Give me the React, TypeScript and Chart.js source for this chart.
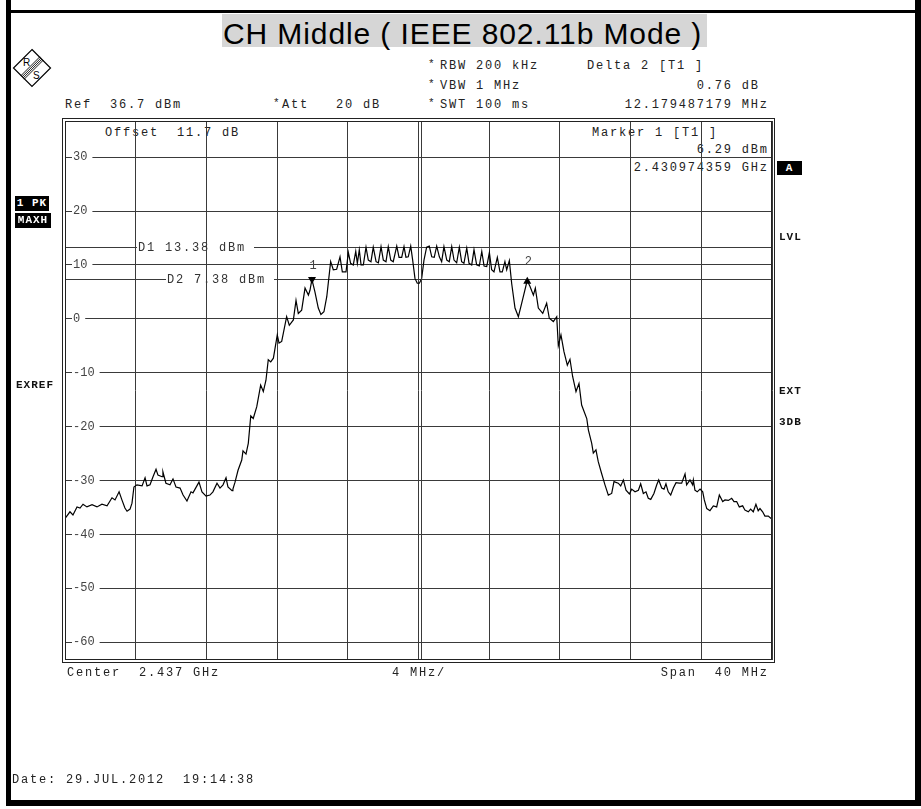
import React, { useEffect, useRef } from "react";
import { Chart, registerables } from "chart.js";

Chart.register(...registerables);

// ---------------- data ----------------
// frequency offset from centre (2.437 GHz), MHz
const freqOffsetMHz = [
  -20.0, -19.94, -19.72, -19.55, -19.32, -19.15, -18.98, -18.76, -18.47, -18.19,
  -17.91, -17.62, -17.34, -17.17, -16.94, -16.78, -16.61, -16.49, -16.32, -16.21,
  -16.1, -15.93, -15.64, -15.47, -15.36, -15.19, -15.02, -14.85, -14.74, -14.51,
  -14.46, -14.29, -14.06, -13.89, -13.72, -13.49, -13.32, -13.1, -12.87, -12.76,
  -12.42, -12.25, -12.02, -11.8, -11.63, -11.4, -11.23, -11.06, -10.89, -10.78,
  -10.55, -10.5, -10.38, -10.21, -10.0, -9.93, -9.76, -9.63, -9.49, -9.35,
  -9.15, -8.93, -8.78, -8.63, -8.5, -8.36, -8.21, -7.99, -7.89, -7.74,
  -7.46, -7.31, -7.08, -6.93, -6.8, -6.61, -6.42, -6.23, -6.14, -6.03,
  -5.86, -5.67, -5.52, -5.35, -5.19, -4.97, -4.82, -4.63, -4.44, -4.31,
  -4.1, -3.97, -3.84, -3.69, -3.55, -3.46, -3.35, -3.25, -3.12, -2.97,
  -2.84, -2.69, -2.56, -2.4, -2.27, -2.12, -1.99, -1.84, -1.71, -1.57,
  -1.43, -1.23, -1.1, -0.95, -0.82, -0.71, -0.58, -0.44, -0.33, -0.2,
  -0.07, 0.05, 0.18, 0.31, 0.46, 0.61, 0.75, 0.89, 1.03, 1.18,
  1.31, 1.44, 1.6, 1.74, 1.88, 2.01, 2.16, 2.31, 2.44, 2.57,
  2.73, 2.86, 3.01, 3.14, 3.29, 3.44, 3.58, 3.71, 3.86, 4.01,
  4.14, 4.27, 4.46, 4.61, 4.74, 4.89, 4.99, 5.14, 5.27, 5.46,
  5.65, 5.84, 6.15, 6.31, 6.5, 6.61, 6.78, 7.03, 7.25, 7.4,
  7.63, 7.82, 7.91, 8.06, 8.23, 8.42, 8.57, 8.72, 8.91, 9.08,
  9.23, 9.52, 9.61, 9.8, 9.89, 10.04, 10.17, 10.36, 10.55, 10.74,
  10.93, 11.06, 11.3, 11.44, 11.59, 11.74, 11.93, 12.06, 12.25, 12.44,
  12.57, 12.72, 12.87, 13.0, 13.14, 13.32, 13.48, 13.59, 13.76, 13.89,
  14.0, 14.13, 14.27, 14.42, 14.57, 14.75, 14.89, 15.08, 15.17, 15.36,
  15.51, 15.55, 15.64, 15.77, 15.93, 16.08, 16.17, 16.31, 16.49, 16.68,
  16.87, 17.02, 17.21, 17.34, 17.53, 17.72, 17.85, 18.0, 18.15, 18.34,
  18.47, 18.66, 18.79, 18.94, 19.09, 19.22, 19.32, 19.47, 19.6, 19.79,
  19.93, 20.0,
];
// trace level, dBm
const levelDbm = [
  -37.0, -36.8, -35.8, -36.4, -34.9, -35.1, -34.4, -34.9, -34.5, -34.9,
  -34.4, -34.7, -33.2, -33.6, -32.1, -33.6, -35.1, -35.7, -35.3, -34.2,
  -31.2, -30.8, -31.0, -29.5, -31.0, -30.8, -29.3, -27.9, -29.0, -29.3,
  -28.4, -30.5, -30.8, -29.7, -31.2, -31.4, -32.7, -33.8, -32.1, -32.3,
  -30.3, -32.1, -32.9, -32.7, -32.1, -30.5, -31.4, -30.8, -29.5, -31.2,
  -31.9, -31.6, -30.3, -28.1, -26.2, -24.5, -25.1, -23.1, -18.0, -18.5,
  -16.3, -12.3, -13.5, -11.4, -7.6, -8.0, -7.3, -3.0, -4.5, -4.2,
  0.4, -1.2, -0.2, 3.4, 1.0, 1.6, 5.7, 4.4, 5.3, 7.3,
  5.0, 2.0, 0.8, 1.3, 4.1, 10.6, 9.1, 9.2, 11.5, 8.7,
  8.7, 12.3, 10.3, 10.0, 12.5, 10.3, 12.8, 10.0, 10.0, 13.3,
  10.9, 10.6, 13.3, 10.6, 10.4, 13.4, 10.9, 10.6, 13.4, 10.9,
  10.6, 13.5, 11.4, 11.4, 13.4, 11.4, 11.5, 13.5, 10.9, 7.5,
  6.6, 6.6, 7.5, 10.9, 13.3, 13.5, 11.5, 11.4, 13.5, 11.5,
  10.6, 13.4, 10.9, 10.6, 13.4, 10.9, 10.4, 13.3, 10.6, 10.3,
  13.1, 10.3, 10.0, 12.8, 10.0, 9.8, 12.5, 9.8, 9.7, 12.3,
  9.1, 8.7, 11.4, 8.7, 8.7, 10.6, 9.1, 10.8, 6.6, 2.0,
  0.4, 2.9, 7.1, 6.0, 4.4, 5.7, 2.0, 1.0, 2.9, 0.1,
  -0.5, 0.4, -5.0, -3.0, -6.1, -8.6, -7.5, -10.7, -13.5, -12.0,
  -16.0, -18.5, -20.6, -23.1, -24.9, -24.3, -26.5, -28.7, -30.8, -32.7,
  -32.4, -30.2, -30.5, -31.0, -29.9, -31.8, -32.5, -31.6, -32.1, -31.8,
  -30.6, -32.4, -32.1, -33.3, -33.5, -32.4, -30.8, -29.9, -31.4, -31.6,
  -30.6, -32.1, -32.7, -31.4, -30.4, -30.5, -30.5, -28.8, -30.8, -29.9,
  -30.8, -29.9, -31.8, -32.1, -31.6, -32.1, -33.6, -35.2, -35.6, -34.7,
  -34.9, -32.7, -33.9, -33.6, -33.7, -33.3, -33.9, -33.9, -34.9, -34.7,
  -35.5, -35.8, -35.3, -35.8, -34.4, -35.6, -35.2, -35.8, -36.6, -36.6,
  -37.0, -37.1,
];

const yTickValues = [30, 20, 10, 0, -10, -20, -30, -40, -50, -60];
const xTickValues = [-20, -16, -12, -8, -4, 0, 4, 8, 12, 16, 20];
const refLevelDbm = 36.7;
const bottomLevelDbm = -63.3;
const displayLineNames = ["D1", "D2"];
const displayLineLevels = [13.38, 7.38];
const markerNames = ["1", "2"];
const markerOffsetsMHz = [-6.025641, 6.153846];
const markerLevelsDbm = [6.29, 7.05];

// ---------------- styling ----------------
const W = 921;
const H = 809;
const MONO = '"Liberation Mono", "DejaVu Sans Mono", monospace';
const GRID = "#3a3a3a";

const rsPlugin = {
  id: "rsDecor",
  beforeDraw(chart: any) {
    const { ctx, chartArea: a, scales } = chart;
    const y = scales.y;
    ctx.save();
    ctx.font = `12px ${MONO}`;
    try { (ctx as any).letterSpacing = "1.8px"; } catch (e) {}
    ctx.textBaseline = "middle";
    ctx.textAlign = "left";
    const labelOffsets = [73, 102];
    displayLineLevels.forEach((v, i) => {
      const py = Math.round(y.getPixelForValue(v)) + 0.5;
      const label = `${displayLineNames[i]} ${v.toFixed(2)} dBm`;
      const tx = a.left + labelOffsets[i];
      const tw = ctx.measureText(label).width;
      ctx.strokeStyle = "#3a3a3a";
      ctx.lineWidth = 1;
      ctx.beginPath();
      ctx.moveTo(a.left, py);
      ctx.lineTo(tx - 1, py);
      ctx.moveTo(tx + tw + 8, py);
      ctx.lineTo(a.right, py);
      ctx.stroke();
      ctx.fillStyle = "#333";
      ctx.fillText(label, tx, py + 0.5);
    });
    ctx.restore();
  },
  afterDatasetsDraw(chart: any) {
    const { ctx, chartArea: a, scales } = chart;
    const x = scales.x;
    const y = scales.y;
    ctx.save();
    // centre double line
    const cx = Math.round(x.getPixelForValue(0)) + 0.5;
    ctx.strokeStyle = GRID;
    ctx.lineWidth = 1;
    ctx.beginPath();
    ctx.moveTo(cx + 2, a.top);
    ctx.lineTo(cx + 2, a.bottom);
    ctx.stroke();
    // frame
    ctx.strokeStyle = "#222";
    ctx.strokeRect(a.left + 0.5, a.top + 0.5, a.right - a.left - 1, a.bottom - a.top - 1);
    ctx.strokeRect(a.left - 2.5, a.top - 2.5, a.right - a.left + 5, a.bottom - a.top + 5);
    // markers
    ctx.fillStyle = "#000";
    markerOffsetsMHz.forEach((f, i) => {
      const px = x.getPixelForValue(f);
      const py = y.getPixelForValue(markerLevelsDbm[i]);
      ctx.beginPath();
      if (i === 0) {
        ctx.moveTo(px - 4, py - 8);
        ctx.lineTo(px + 4, py - 8);
        ctx.lineTo(px, py - 1);
      } else {
        ctx.moveTo(px, py - 4);
        ctx.lineTo(px + 4, py + 3);
        ctx.lineTo(px - 4, py + 3);
      }
      ctx.closePath();
      ctx.fill();
      ctx.font = `12px ${MONO}`;
      ctx.fillStyle = "#444";
      ctx.textAlign = "center";
      ctx.textBaseline = "middle";
      ctx.fillText(markerNames[i], px + (i === 0 ? 1 : 1), py - 19);
      ctx.fillStyle = "#000";
    });
    ctx.restore();
  },
};

type TP = { x: number; y: number; right?: boolean; children: React.ReactNode; style?: React.CSSProperties };
const T = ({ x, y, right, children, style }: TP) => (
  <div
    style={{
      position: "absolute",
      ...(right ? { right: W - x - 1.8 } : { left: x }),
      top: y - 6,
      fontFamily: MONO,
      fontSize: 12,
      letterSpacing: "1.8px",
      lineHeight: "12px",
      whiteSpace: "pre",
      color: "#222",
      ...style,
    }}
  >
    {children}
  </div>
);

const Star = ({ x, y }: { x: number; y: number }) => (
  <div style={{ position: "absolute", left: x, top: y - 7, fontFamily: MONO, fontSize: 11, lineHeight: "11px", color: "#222" }}>*</div>
);

const B = ({ x, y, children, inv, w, h }: { x: number; y: number; children: React.ReactNode; inv?: boolean; w?: number; h?: number }) => (
  <div
    style={{
      position: "absolute",
      left: x,
      top: y - (h ? h / 2 : 6),
      width: w,
      height: h,
      background: inv ? "#000" : "transparent",
      color: inv ? "#fff" : "#111",
      fontFamily: MONO,
      fontWeight: 700,
      fontSize: 11,
      letterSpacing: "1px",
      lineHeight: h ? `${h}px` : "12px",
      whiteSpace: "pre",
      textAlign: inv ? "center" : "left",
    }}
  >
    {children}
  </div>
);

export default function App() {
  const ref = useRef<HTMLCanvasElement | null>(null);

  useEffect(() => {
    if (!ref.current) return;
    const points = freqOffsetMHz.map((f, i) => ({ x: f, y: levelDbm[i] }));
    const chart = new Chart(ref.current, {
      type: "line",
      data: {
        datasets: [
          {
            data: points,
            borderColor: "#000",
            borderWidth: 1.2,
            pointRadius: 0,
            tension: 0,
            fill: false,
          },
        ],
      },
      options: {
        animation: false,
        responsive: false,
        devicePixelRatio: 1,
        layout: { padding: { left: 65, top: 121, right: W - 772, bottom: H - 660 } },
        plugins: { legend: { display: false }, tooltip: { enabled: false }, title: { display: false } },
        events: [],
        scales: {
          x: {
            type: "linear",
            min: -20,
            max: 20,
            afterBuildTicks: (s: any) => {
              s.ticks = xTickValues.map((v) => ({ value: v }));
            },
            afterFit: (s: any) => {
              s.height = 0;
            },
            grid: { color: GRID, lineWidth: 1, drawTicks: false },
            border: { display: false },
            ticks: { display: false },
          },
          y: {
            type: "linear",
            min: bottomLevelDbm,
            max: refLevelDbm,
            afterBuildTicks: (s: any) => {
              s.ticks = yTickValues.map((v) => ({ value: v }));
            },
            afterFit: (s: any) => {
              s.width = 0;
            },
            grid: { color: GRID, lineWidth: 1, drawTicks: false },
            border: { display: false },
            ticks: {
              mirror: true,
              padding: 8,
              color: "#444",
              font: { family: "Liberation Mono", size: 12 },
              showLabelBackdrop: true,
              backdropColor: "#fff",
              backdropPadding: { top: 0, bottom: 0, left: 1, right: 5 },
              callback: (v: any) => String(v),
            },
          },
        },
      } as any,
      plugins: [rsPlugin],
    });
    return () => chart.destroy();
  }, []);

  return (
    <div style={{ position: "absolute", left: 0, top: 0, width: W, height: H, background: "#fff", overflow: "hidden" }}>
      {/* outer document frame */}
      <div style={{ position: "absolute", left: 6, top: 0, width: 5, height: 806, background: "#000" }} />
      <div style={{ position: "absolute", left: 915, top: 0, width: 6, height: 806, background: "#000" }} />
      <div style={{ position: "absolute", left: 6, top: 10, width: 915, height: 3, background: "#000" }} />
      <div style={{ position: "absolute", left: 6, top: 800, width: 915, height: 6, background: "#000" }} />

      {/* title */}
      <div style={{ position: "absolute", left: 222, top: 14, width: 485, height: 33, background: "#d6d6d6" }}>
        <div
          style={{
            position: "absolute",
            left: 1,
            top: 5,
            fontFamily: '"Liberation Sans", Arial, sans-serif',
            fontSize: 30,
            letterSpacing: "0.9px",
            lineHeight: "30px",
            whiteSpace: "pre",
            color: "#000",
          }}
        >
          CH Middle ( IEEE 802.11b Mode )
        </div>
      </div>

      {/* R&S logo */}
      <svg style={{ position: "absolute", left: 12, top: 48 }} width={40} height={40} viewBox="0 0 40 40">
        <polygon points="20,1.5 38.5,20 20,38.5 1.5,20" fill="#fff" stroke="#000" strokeWidth={1.2} />
        {[-2.4, -0.8, 0.8, 2.4].map((d, i) => (
          <line key={i} x1={29.5 + d * 0.707} y1={10.5 + d * 0.707} x2={10.5 + d * 0.707} y2={29.5 + d * 0.707} stroke="#000" strokeWidth={0.9} />
        ))}
        <text x={11} y={18} fontFamily='"Liberation Sans", Arial, sans-serif' fontSize={10} fill="#000">R</text>
        <text x={21} y={31} fontFamily='"Liberation Sans", Arial, sans-serif' fontSize={10} fill="#000">S</text>
      </svg>

      {/* header settings */}
      <Star x={428} y={66} />
      <T x={440} y={66}>RBW 200 kHz</T>
      <Star x={428} y={86} />
      <T x={440} y={86}>VBW 1 MHz</T>
      <T x={65} y={105}>Ref  36.7 dBm</T>
      <Star x={273} y={105} />
      <T x={282} y={105}>Att   20 dB</T>
      <Star x={428} y={105} />
      <T x={440} y={105}>SWT 100 ms</T>
      <T x={587} y={66}>Delta 2 [T1 ]</T>
      <T x={767} y={86} right>0.76 dB </T>
      <T x={767} y={105} right>12.179487179 MHz</T>

      {/* in-plot texts (under the grid) */}
      <T x={105} y={133}>Offset  11.7 dB</T>
      <T x={592} y={133}>Marker 1 [T1 ]</T>
      <T x={767} y={150} right>6.29 dBm</T>
      <T x={767} y={168} right>2.430974359 GHz</T>

      <canvas ref={ref} width={W} height={H} style={{ position: "absolute", left: 0, top: 0, width: W, height: H }} />

      {/* side annotations */}
      <B x={15} y={203} inv w={34} h={15}>1 PK</B>
      <B x={15} y={220} inv w={36} h={15}>MAXH</B>
      <B x={16} y={385}>EXREF</B>
      <B x={777} y={168} inv w={25} h={14}>A</B>
      <B x={779} y={237}>LVL</B>
      <B x={779} y={391}>EXT</B>
      <B x={779} y={422}>3DB</B>

      {/* footer */}
      <T x={67} y={673}>Center  2.437 GHz</T>
      <T x={392} y={673}>4 MHz/</T>
      <T x={767} y={673} right>Span  40 MHz</T>
      <T x={12} y={780}>Date: 29.JUL.2012  19:14:38</T>
    </div>
  );
}
